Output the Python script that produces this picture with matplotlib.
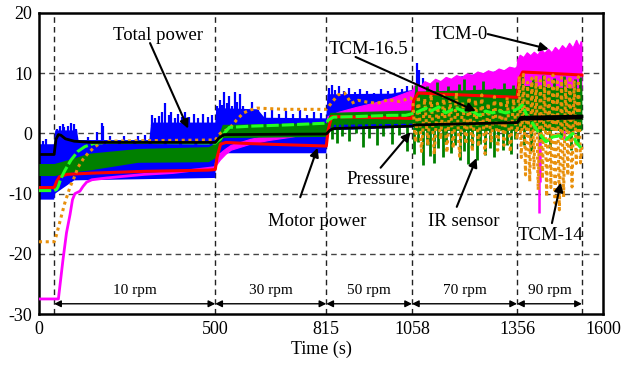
import numpy as np
import matplotlib
matplotlib.use("Agg")
import matplotlib.pyplot as plt

plt.rcParams['font.family'] = ['Liberation Serif', 'DejaVu Serif']
plt.rcParams['axes.unicode_minus'] = False

# ---------------- data ----------------
# Total power (blue): noisy band envelope + spikes
tp_hi_t = [0, 43, 46, 108, 112, 313, 318, 500, 503, 620, 640, 815, 818, 1000, 1058, 1200, 1356, 1360, 1540]
tp_hi_v = [-1.8, -1.8, 0.5, 0.5, -1.1, -1.1, 1.8, 1.8, 4.2, 4.0, 2.6, 2.5, 6.5, 6.6, 7.2, 9.5, 10.8, 12.0, 14.5]
tp_lo_t = [0, 43, 46, 100, 500, 503, 815, 818, 1058, 1356, 1540]
tp_lo_v = [-11.0, -11.0, -10.0, -7.8, -7.4, -3.3, -3.3, 0.5, 1.0, 3.0, 5.0]
tp_spk_t = [10, 20, 52, 60, 68, 72, 82, 90, 98, 105, 140, 165, 178, 182, 200, 240, 280, 300,
            320, 330, 341, 350, 358, 368, 375, 385, 395, 405, 415, 425, 440, 452, 465, 478, 490,
            505, 512, 518, 525, 532, 540, 548, 555, 562, 570, 578, 590, 605, 620, 640, 660, 680,
            700, 720, 740, 760, 780, 800,
            822, 830, 840, 850, 865, 880, 895, 910, 930, 950, 970, 990, 1010, 1030, 1045, 1073, 1078, 1090]
tp_spk_v = [-1.3, -1.0, 0.8, 1.2, 1.5, 1.0, 1.3, 1.7, 1.5, 0.8, -0.6, 0.2, 1.7, 1.3, -0.5, -0.5, -0.4, -0.3,
            3.0, 2.5, 2.9, 3.5, 5.0, 3.0, 3.6, 2.6, 3.2, 2.8, 3.5, 2.7, 3.2, 2.6, 3.3, 2.8, 3.1,
            4.5, 5.5, 4.8, 6.8, 5.0, 6.2, 4.5, 6.9, 5.2, 6.5, 4.6, 4.0, 5.2, 3.9, 3.5, 3.9, 3.2,
            3.7, 3.3, 3.9, 3.1, 3.6, 3.4,
            7.5, 8.0, 7.2, 7.8, 7.0, 7.6, 6.8, 7.4, 7.0, 6.7, 7.3, 7.1, 7.6, 7.4, 7.8, 11.7, 10.5, 9.2]

# TCM-0 (magenta): line up to 500 s, band afterwards
c0_t = [0, 55, 60, 68, 78, 88, 95, 102, 116, 125, 135, 150, 192, 300, 381, 495, 500]
c0_v = [-27.5, -27.5, -25.0, -21.0, -16.5, -13.5, -11.0, -10.0, -9.6, -8.8, -8.1, -7.7, -7.4, -6.8, -6.5, -5.7, -5.6]
c0_hi_t = [500, 505, 515, 530, 545, 600, 650, 720, 798, 815, 820, 850, 900, 950, 1000, 1054,
           1058, 1070, 1080, 1095, 1110, 1125, 1140, 1155, 1170, 1185, 1200, 1215, 1230, 1245, 1260,
           1275, 1290, 1305, 1320, 1335, 1350, 1356,
           1358, 1365, 1375, 1385, 1395, 1405, 1415, 1425, 1435, 1445, 1455, 1465, 1475, 1485,
           1495, 1505, 1515, 1525, 1533, 1538, 1540]
c0_hi_v = [-5.0, -4.0, -3.3, -2.6, -2.0, -1.0, -0.4, 0.2, 1.0, 1.2, 2.8, 3.5, 4.3, 5.0, 5.8, 7.0,
           7.0, 8.3, 7.6, 8.6, 8.2, 9.0, 8.6, 9.3, 9.0, 9.6, 9.3, 9.9, 9.6, 10.2, 9.9,
           10.4, 10.1, 10.7, 10.4, 11.0, 10.8, 11.0,
           12.2, 13.0, 12.6, 13.4, 12.9, 13.5, 13.0, 13.9, 13.3, 14.0, 13.4, 14.3, 13.7, 14.6,
           14.0, 15.0, 14.2, 15.5, 14.4, 15.3, 15.0]
c0_lo_t = [500, 505, 515, 530, 545, 600, 650, 720, 798, 815, 820, 1058, 1062, 1356, 1360, 1540]
c0_lo_v = [-5.6, -5.2, -4.4, -3.5, -2.8, -1.8, -1.2, -0.6, 0.4, 0.5, 1.5, 3.0, 4.0, 5.0, 6.0, 7.0]
c0_spk_t = [1418, 1421, 1440, 1489]
c0_spk_v = [-13.2, -8.0, 2.5, -1.0]

# IR sensor (dark green): band + spikes
ir_t = [0, 43, 97, 140, 280, 480, 500, 520, 815, 825, 1058, 1065, 1356, 1362, 1540]
ir_lo = [-7.0, -7.0, -6.4, -6.1, -4.8, -4.7, -4.0, -0.7, -0.5, 1.5, 1.7, 0.5, 0.5, 0.5, 0.5]
ir_hi = [-5.0, -5.0, -4.1, -3.3, -2.5, -2.2, -1.6, 1.5, 1.8, 3.5, 3.9, 7.0, 7.5, 8.0, 7.5]
ir_dn_t = [830, 845, 860, 880, 900, 918, 935, 960, 975, 1000, 1020, 1045,
           1065, 1075, 1088, 1100, 1110, 1120, 1132, 1145, 1155, 1168, 1180, 1193, 1205, 1216,
           1228, 1241, 1252, 1265, 1278, 1290, 1302, 1315, 1328, 1340, 1350,
           1375, 1395, 1420, 1450, 1480, 1510, 1530]
ir_dn_v = [-1.0, -1.6, -0.5, -1.2, 0.0, -2.2, -0.8, -2.0, -0.5, -1.8, -0.3, -3.0,
           -3.5, -1.5, -5.2, -2.0, -3.8, -4.9, -2.5, -4.0, -1.5, -3.2, -2.0, -4.5, -3.0, -5.0,
           -2.2, -4.4, -1.8, -3.6, -2.5, -3.9, -1.2, -2.8, -2.0, -3.4, -1.0,
           -2.0, -3.0, -1.5, -2.5, -1.0, -2.8, -2.0]
ir_up_t = [1070, 1100, 1130, 1160, 1190, 1205, 1235, 1260, 1290, 1320, 1345,
           1370, 1400, 1430, 1460, 1490, 1520, 1535]
ir_up_v = [8.0, 7.8, 8.5, 7.9, 8.2, 9.0, 8.0, 8.7, 7.6, 8.3, 8.0,
           9.5, 9.0, 9.7, 9.2, 9.6, 9.0, 9.4]

# Motor power (red)
mp_t = [0, 43, 50, 58, 80, 150, 300, 480, 500, 505, 515, 530, 600, 815, 820, 830,
        1058, 1063, 1075, 1356, 1362, 1372, 1540]
mp_v = [-9.0, -9.0, -8.0, -7.2, -6.8, -6.6, -6.3, -6.1, -6.0, -4.0, -1.8, -1.5, -1.7, -2.1, 0.5, 2.8,
        2.5, 5.5, 6.7, 6.0, 9.0, 10.2, 9.7]

# TCM-14 (orange dotted)
c14_t = [0, 43, 48, 60, 73, 88, 100, 111, 125, 139, 155, 173, 200, 300, 500, 514, 530, 543, 560,
         580, 600, 619, 700, 815, 829, 848, 867, 886, 905, 930, 960, 990, 1023, 1054,
         1060, 1068, 1076, 1085, 1094, 1103, 1112, 1121, 1130, 1139, 1148, 1157, 1166, 1175,
         1184, 1193, 1202, 1211, 1220, 1229, 1238, 1247, 1256, 1265, 1274, 1283, 1292, 1301,
         1310, 1319, 1328, 1337, 1346, 1356,
         1362, 1368, 1374, 1380, 1386, 1392, 1398, 1404, 1410, 1416, 1422, 1428, 1434, 1440,
         1446, 1452, 1458, 1464, 1470, 1476, 1482, 1488, 1494, 1500, 1506, 1512, 1518, 1524,
         1530, 1536, 1540]
c14_v = [-18.0, -18.0, -17.2, -14.5, -11.6, -8.9, -7.3, -5.6, -4.3, -3.3, -2.4, -1.6, -1.3, -1.2, -1.1,
         0.0, 0.5, 1.0, 2.2, 3.4, 3.9, 4.2, 4.0, 4.0, 5.0, 6.4, 6.7, 5.0, 5.5, 5.2, 5.0, 5.6, 5.3, 5.9,
         5.5, -1.5, 6.2, -3.0, 5.8, -2.0, 6.5, -3.5, 5.0, -1.0, 6.3, -3.2, 5.5, -2.5,
         6.8, -3.8, 5.2, -1.8, 6.0, -3.0, 5.6, -2.2, 6.4, -3.4, 5.0, -1.5, 6.1, -2.8,
         5.4, -2.0, 6.0, -3.1, 5.7, -1.0,
         9.5, -4.0, 9.8, -6.9, 8.5, -8.0, 9.2, -6.0, 9.6, -9.4, 8.8, -7.5, 9.4, -10.5,
         9.0, -9.0, 9.7, -11.6, 8.6, -12.7, 9.3, -10.6, 9.0, -7.0, 9.5, -8.9, 8.8, -5.0,
         9.4, -4.9, -2.0]

# TCM-16.5 (light green dashed)
c165_t = [0, 43, 50, 54, 62, 74, 91, 110, 130, 159, 200, 300, 500, 505, 515, 525, 540, 600, 700,
          815, 820, 835, 900, 1000, 1040, 1068, 1097, 1111, 1134, 1153, 1182, 1206, 1229, 1248,
          1267, 1286, 1305, 1324, 1343, 1362, 1371, 1386, 1400, 1419, 1438, 1457, 1476, 1495,
          1514, 1523, 1537]
c165_v = [-9.5, -9.5, -9.3, -8.9, -7.5, -6.1, -4.4, -3.0, -2.2, -1.6, -1.5, -1.5, -1.6, -1.3, -0.9,
          0.0, 1.0, 1.2, 1.4, 1.7, 2.2, 2.7, 2.8, 3.0, 3.0, 3.4, 4.2, 3.7, 4.4, 3.4, 4.2, 3.7, 3.7,
          3.0, 3.7, 3.4, 3.7, 3.4, 3.7, 4.2, 4.7, 2.7, 1.7, 0.0, -1.4, -0.6, -0.4, -1.0, 0.0, -1.4, -2.4]

# Pressure (black)
pr_t = [0, 43, 48, 55, 62, 75, 100, 150, 500, 510, 525, 815, 825, 835, 1058, 1065, 1356, 1365, 1540]
pr_v = [-3.5, -3.5, -1.0, -0.2, -0.3, -0.9, -1.3, -1.5, -1.5, -0.8, -0.2, -0.1, 0.5, 0.8, 1.2, 1.4,
        1.8, 2.6, 2.8]

# speed phases
phase_edges = [43, 500, 815, 1058, 1356, 1540]
phase_labels = ['10 rpm', '30 rpm', '50 rpm', '70 rpm', '90 rpm']
x_ticks = [0, 500, 815, 1058, 1356, 1600]
y_ticks = [-30, -20, -10, 0, 10, 20]

# annotations: (text, text xy, arrow start, arrow end)
annots = [
    ('Total power', (338, 16.3), (315, 15.0), (423, 0.8)),
    ('TCM-16.5', (935, 14.0), (898, 12.7), (1239, 3.7)),
    ('TCM-0', (1193, 16.5), (1273, 16.5), (1446, 14.0)),
    ('Pressure', (963, -7.7), (969, -5.7), (1054, 0.2)),
    ('Motor power', (790, -14.7), (741, -10.6), (790, -2.4)),
    ('IR sensor', (1205, -14.7), (1185, -12.2), (1241, -4.1)),
    ('TCM-14', (1452, -16.9), (1455, -14.9), (1480, -8.2)),
]

# ---------------- plot ----------------
fig = plt.figure(figsize=(6.23, 3.65), dpi=100)
ax = fig.add_axes([0.0626, 0.1397, 0.9054, 0.8247])
ax.set_xlim(0, 1600)
ax.set_ylim(-30, 20)

BLUE = '#0000ff'
MAG = '#ff00ff'
DGREEN = '#008000'
LIME = '#22ff22'
RED = '#ff0000'
ORANGE = '#e8900c'

# grid
for y in [-20, -10, 0, 10]:
    ax.axhline(y, color='#444444', lw=1.0, ls=(0, (4, 3)), zorder=1)
for x in phase_edges:
    ax.axvline(x, color='#222222', lw=1.0, ls=(0, (4, 3)), zorder=1)

# Total power
ax.fill(np.r_[tp_hi_t, tp_lo_t[::-1]], np.r_[tp_hi_v, tp_lo_v[::-1]], color=BLUE, lw=0, zorder=2)
tp_base = np.interp(tp_spk_t, tp_hi_t, tp_hi_v)
ax.vlines(tp_spk_t, tp_base - 0.5, tp_spk_v, color=BLUE, lw=1.6, zorder=2)

# TCM-0
ax.plot(c0_t, c0_v, color=MAG, lw=2, zorder=3)
ax.fill(np.r_[c0_hi_t, c0_lo_t[::-1]], np.r_[c0_hi_v, c0_lo_v[::-1]], color=MAG, lw=0.8, ec=MAG, zorder=3)
ax.vlines(c0_spk_t, 6.0, c0_spk_v, color=MAG, lw=1.8, zorder=3)

# IR sensor
ax.fill_between(ir_t, ir_lo, ir_hi, color=DGREEN, lw=0, zorder=4)
ir_dn_base = np.interp(ir_dn_t, ir_t, ir_lo)
ax.vlines(ir_dn_t, ir_dn_base + 0.5, ir_dn_v, color=DGREEN, lw=2.0, zorder=4)
ir_up_base = np.interp(ir_up_t, ir_t, ir_hi)
ax.vlines(ir_up_t, ir_up_base - 0.5, ir_up_v, color=DGREEN, lw=2.0, zorder=4)

# Motor power
ax.plot(mp_t, mp_v, color=RED, lw=2.2, zorder=5)

# TCM-14
ax.plot(c14_t, c14_v, color=ORANGE, lw=2.2, ls=(0, (1, 1.2)), zorder=6)

# TCM-16.5
ax.plot(c165_t, c165_v, color=LIME, lw=2.2, ls=(0, (4, 1)), zorder=7)

# Pressure
ax.plot(pr_t, pr_v, color='black', lw=2.0, zorder=8)
ax.fill_between([1356, 1365, 1540], [1.6, 2.2, 2.4], [2.0, 3.0, 3.2], color='black', lw=0, zorder=8)

# annotations
for txt, txy, a0, a1 in annots:
    ax.text(txy[0], txy[1], txt, fontsize=13.5, ha='center', va='center', zorder=10)
    ax.annotate('', xy=a1, xytext=a0,
                arrowprops=dict(arrowstyle='-|>', color='black', lw=1.5, mutation_scale=13,
                                shrinkA=0, shrinkB=0), zorder=10)

# phase spans
for i, lab in enumerate(phase_labels):
    x0, x1 = phase_edges[i], phase_edges[i + 1]
    ax.annotate('', xy=(x1, -28.3), xytext=(x0, -28.3),
                arrowprops=dict(arrowstyle='<|-|>', color='black', lw=1.0, mutation_scale=10,
                                shrinkA=0, shrinkB=0), zorder=10)
    ax.text((x0 + x1) / 2, -26.1, lab, fontsize=11, ha='center', va='center', zorder=10)

ax.set_xticks(x_ticks)
ax.set_yticks(y_ticks)
ax.tick_params(length=0, labelsize=13, pad=5)
for s in ax.spines.values():
    s.set_linewidth(1.8)
ax.set_xlabel('Time (s)', fontsize=13, labelpad=2)

fig.savefig('out.png', dpi=100)
